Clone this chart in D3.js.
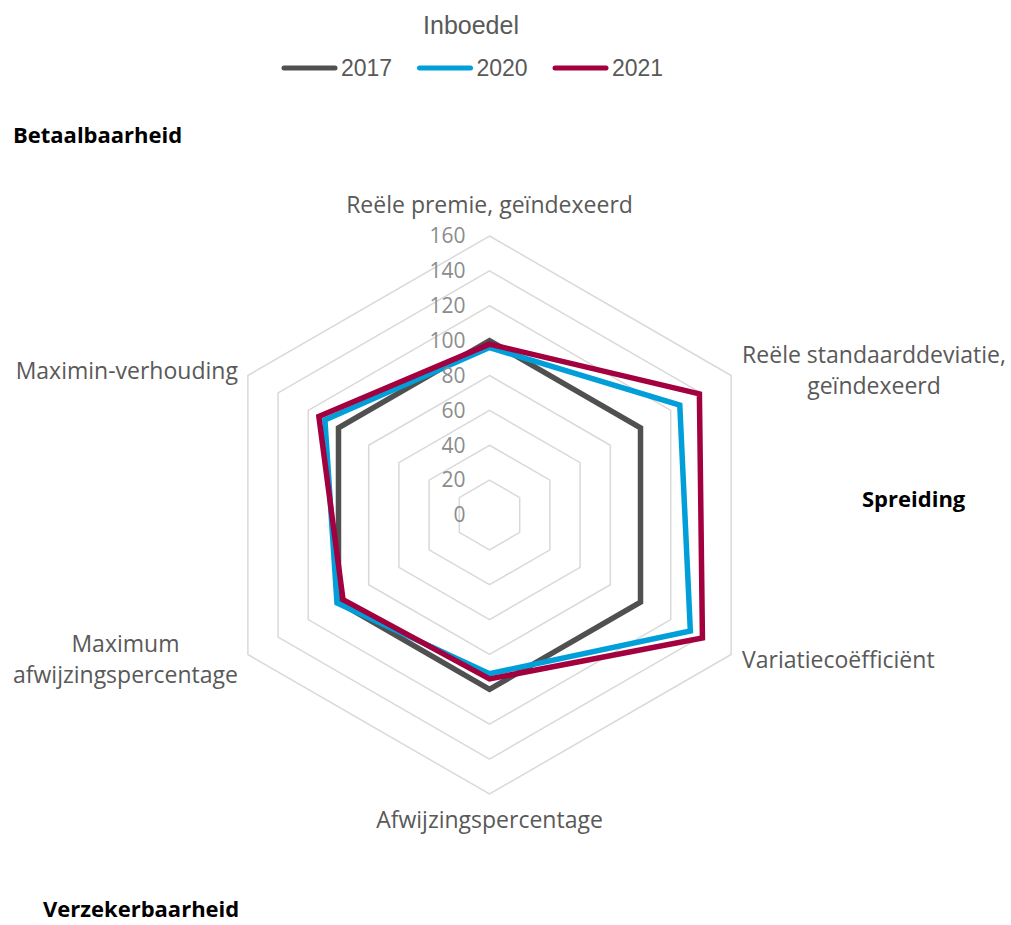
<!DOCTYPE html>
<html>
<head>
<meta charset="utf-8">
<script src="https://cdn.jsdelivr.net/npm/d3@7"></script>
<style>
  body { margin: 0; background: #fff; }
  svg { display: block; }
</style>
</head>
<body>
<div id="chart"></div>
<script>
// chart data
const title = 'Inboedel';
const categories = [
  ['Reële premie, geïndexeerd'],
  ['Reële standaarddeviatie,', 'geïndexeerd'],
  ['Variatiecoëfficiënt'],
  ['Afwijzingspercentage'],
  ['Maximum', 'afwijzingspercentage'],
  ['Maximin-verhouding']
];
const years = ['2017', '2020', '2021'];
const values2017 = [100, 100, 100, 100, 100, 100];
const values2020 = [96, 126, 133, 91, 101, 109];
const values2021 = [98, 139, 141, 94, 97, 113];
const ticks = [0, 20, 40, 60, 80, 100, 120, 140, 160];
const groupLabels = ['Betaalbaarheid', 'Spreiding', 'Verzekerbaarheid'];

const series = [values2017, values2020, values2021];
const colors = ['#505050', '#009fda', '#a3003f'];

const width = 1011, height = 925;
const cx = 489.5, cy = 515, R = 279;

const svg = d3.select('#chart').append('svg')
  .attr('width', width)
  .attr('height', height);

const r = d3.scaleLinear().domain([0, 160]).range([0, R]);
const angle = d3.scaleLinear().domain([0, categories.length]).range([0, 2 * Math.PI]);

const radar = d3.lineRadial()
  .angle((d, i) => angle(i))
  .radius(d => r(d))
  .curve(d3.curveLinearClosed);

const g = svg.append('g').attr('transform', `translate(${cx},${cy})`);

// grid hexagons
g.selectAll('.grid')
  .data(ticks.slice(1))
  .join('path')
  .attr('class', 'grid')
  .attr('d', t => radar(categories.map(() => t)))
  .attr('fill', 'none')
  .attr('stroke', '#d9d9d9')
  .attr('stroke-width', 1.5);

// series
g.selectAll('.series')
  .data(series)
  .join('path')
  .attr('class', 'series')
  .attr('d', d => radar(d))
  .attr('fill', 'none')
  .attr('stroke', (d, i) => colors[i])
  .attr('stroke-width', 5.5)
  .attr('stroke-linejoin', 'miter');

// tick labels
g.selectAll('.tick')
  .data(ticks)
  .join('text')
  .attr('class', 'tick')
  .attr('x', -24)
  .attr('y', t => -r(t))
  .attr('dy', '0.35em')
  .attr('text-anchor', 'end')
  .attr('font-family', 'Open Sans, sans-serif')
  .attr('font-size', 21)
  .attr('fill', '#8c8c8c')
  .text(t => t);

// category labels
const lineH = 31;
categories.forEach((lines, i) => {
  const a = angle(i);
  const vx = Math.sin(a) * R, vy = -Math.cos(a) * R;
  const t = g.append('text')
    .attr('font-family', 'Open Sans, sans-serif')
    .attr('font-size', 23)
    .attr('fill', '#595959');
  lines.forEach(s => t.append('tspan').text(s));
  const widths = t.selectAll('tspan').nodes().map(n => n.getComputedTextLength());
  const blockW = d3.max(widths);
  let centerX, firstBase;
  if (Math.abs(vx) < 1) {
    centerX = vx;
    firstBase = vy < 0 ? vy - 23 : vy + 34;
  } else {
    centerX = vx > 0 ? vx + 11 + blockW / 2 : vx - 10 - blockW / 2;
    const shift = vy < 0 ? -5 : 5;
    firstBase = vy + shift + 8 - (lines.length - 1) * lineH / 2;
  }
  t.attr('text-anchor', 'middle');
  t.selectAll('tspan')
    .attr('x', centerX)
    .attr('y', (d, j) => firstBase + j * lineH);
});

// group labels
const groupPos = [[13, 143], [862, 507], [43, 917]];
svg.selectAll('.group')
  .data(groupLabels)
  .join('text')
  .attr('class', 'group')
  .attr('x', (d, i) => groupPos[i][0])
  .attr('y', (d, i) => groupPos[i][1])
  .attr('font-family', 'Open Sans, sans-serif')
  .attr('font-weight', 'bold')
  .attr('font-size', 22)
  .attr('fill', '#000')
  .text(d => d);

// title
svg.append('text')
  .attr('x', 471)
  .attr('y', 34)
  .attr('text-anchor', 'middle')
  .attr('font-family', 'Liberation Sans, Arial, sans-serif')
  .attr('font-size', 25)
  .attr('fill', '#595959')
  .text(title);

// legend
const legendX = d3.scalePoint().domain(years).range([284, 555]);
const leg = svg.selectAll('.legend')
  .data(years)
  .join('g')
  .attr('class', 'legend')
  .attr('transform', d => `translate(${legendX(d)},68)`);
leg.append('line')
  .attr('x1', 0).attr('x2', 51)
  .attr('stroke', (d, i) => colors[i])
  .attr('stroke-width', 5)
  .attr('stroke-linecap', 'round');
leg.append('text')
  .attr('x', 57)
  .attr('y', 8)
  .attr('font-family', 'Liberation Sans, Arial, sans-serif')
  .attr('font-size', 23)
  .attr('fill', '#595959')
  .text(d => d);
</script>
</body>
</html>
